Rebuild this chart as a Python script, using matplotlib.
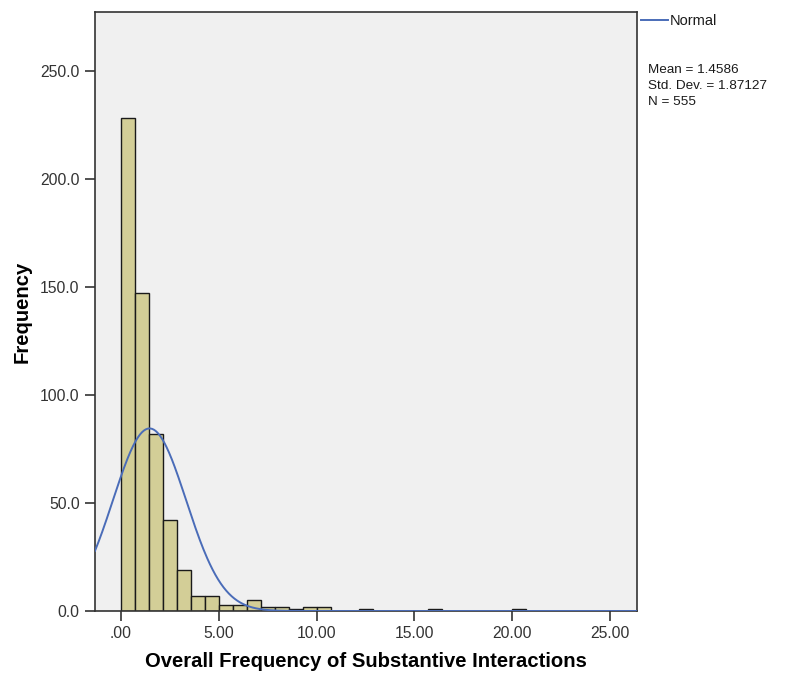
import numpy as np
import matplotlib
matplotlib.use("Agg")
import matplotlib.pyplot as plt
from matplotlib.ticker import FuncFormatter

plt.rcParams['font.family'] = ['Liberation Sans', 'DejaVu Sans']

# histogram: bins of width 20/28 starting at 0
bin_width = 20.0 / 28
counts = [228, 147, 82, 42, 19, 7, 7, 3, 3, 5, 2, 2, 1, 2, 2,
          0, 0, 1, 0, 0, 0, 0, 1, 0, 0, 0, 0, 0, 1]
mean = 1.4586
std = 1.87127
n = 555

x_ticks = [0, 5, 10, 15, 20, 25]
y_ticks = [0, 50, 100, 150, 200, 250]

fig = plt.figure(figsize=(7.85, 6.77), dpi=100)
ax = fig.add_axes([0.121, 0.0975, 0.6905, 0.8848])
ax.set_facecolor('#F0F0F0')

edges = np.arange(len(counts)) * bin_width
ax.bar(edges, counts, width=bin_width, align='edge',
       color='#D3CE97', edgecolor='#1A1A1A', linewidth=1.0, zorder=2)

xlo, xhi = -1.33, 26.38
xs = np.linspace(xlo, xhi, 600)
ys = n * bin_width / (std * np.sqrt(2 * np.pi)) * np.exp(-0.5 * ((xs - mean) / std) ** 2)
line, = ax.plot(xs, ys, color='#4A6CB8', linewidth=1.4, zorder=3)

ax.set_xlim(xlo, xhi)
ax.set_ylim(0, 277.3)
ax.set_xticks(x_ticks)
ax.set_yticks(y_ticks)
ax.xaxis.set_major_formatter(FuncFormatter(lambda v, p: ('%.2f' % v).lstrip('0') if v < 1 else '%.2f' % v))
ax.yaxis.set_major_formatter(FuncFormatter(lambda v, p: '%.1f' % v))
ax.tick_params(direction='out', length=7, width=1.2, color='#333333',
               labelsize=11.3, labelcolor='#333333', pad=4)
for s in ax.spines.values():
    s.set_color('#333333')
    s.set_linewidth(1.2)

ax.set_xlabel('Overall Frequency of Substantive Interactions', fontsize=14.6,
              fontweight='bold')
ax.set_ylabel('Frequency', fontsize=14.6, fontweight='bold')
ax.xaxis.set_label_coords(0.5, -51 / 599, transform=ax.transAxes)
ax.yaxis.set_label_coords(-73 / 542, 0.5, transform=ax.transAxes)
ax.xaxis.label.set_va('center')
ax.yaxis.label.set_va('center')

# legend and stats outside the plot, SPSS style
fig.add_artist(plt.Line2D([641 / 785, 668 / 785], [1 - 20 / 677, 1 - 20 / 677],
                          color='#4A6CB8', linewidth=1.4))
fig.text(670 / 785, 1 - 21 / 677, 'Normal', fontsize=10.5, va='center', color='#1A1A1A')
fig.text(648 / 785, 1 - 86 / 677,
         'Mean = %.4f\nStd. Dev. = %.5f\nN = %d' % (mean, std, n),
         fontsize=9.7, va='center', linespacing=1.45, color='#1A1A1A')

fig.savefig('out.png', dpi=100)
